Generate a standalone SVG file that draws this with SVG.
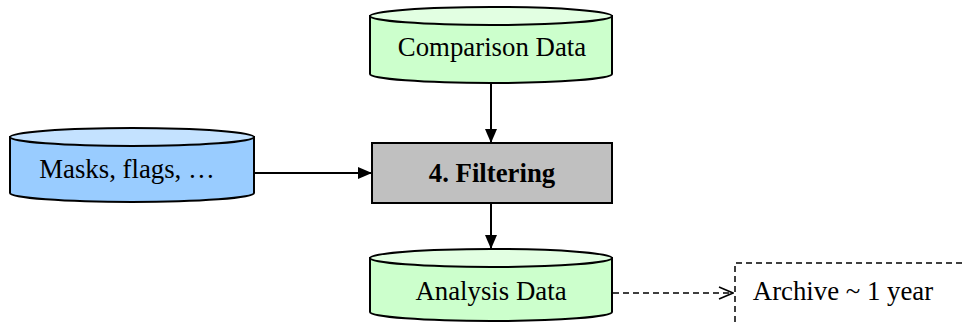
<svg xmlns="http://www.w3.org/2000/svg" width="964" height="322" viewBox="0 0 964 322">
<defs>
<style>
.t{font-family:"Liberation Serif","Times New Roman",serif;font-size:26.8px;fill:#000;text-anchor:middle}
.b{font-weight:bold}
.s{stroke:#000;stroke-width:2}
.c{stroke:#000;stroke-width:2;fill:none}
.g{fill:#ccffcc}
.gt{fill:#e2ffe2}
.bl{fill:#99ccff}
.blt{fill:#c4e2ff}
</style>
<marker id="ah" markerWidth="14" markerHeight="12" refX="14" refY="6" orient="auto" markerUnits="userSpaceOnUse">
<path d="M0,0 L14,6 L0,12 Z" fill="#000"/>
</marker>
<marker id="oh" markerWidth="16" markerHeight="14" refX="15" refY="7" orient="auto" markerUnits="userSpaceOnUse">
<path d="M1,1 L15,7 L1,13" fill="none" stroke="#000" stroke-width="1.5"/>
</marker>
</defs>
<g id="comparison">
<path class="s g" d="M370,16 L370,74 A121,9 0 0 0 612,74 L612,16 Z"/>
<ellipse class="s gt" cx="491" cy="16" rx="121" ry="9"/>
<text class="t" x="492" y="56">Comparison Data</text>
</g>
<g id="masks">
<path class="s bl" d="M10,137 L10,193 A122,9 0 0 0 254,193 L254,137 Z"/>
<ellipse class="s blt" cx="132" cy="137" rx="122" ry="9"/>
<text class="t" x="127" y="178">Masks, flags, …</text>
</g>
<g id="filtering">
<rect class="s" x="372" y="143" width="240" height="60" fill="#c0c0c0"/>
<text class="t b" x="492" y="182">4. Filtering</text>
</g>
<g id="analysis">
<path class="s g" d="M370,258 L370,312 A121,9 0 0 0 612,312 L612,258 Z"/>
<ellipse class="s gt" cx="491" cy="258" rx="121" ry="9"/>
<text class="t" x="491" y="300">Analysis Data</text>
</g>
<g id="archive">
<path d="M735,322 L735,263 L964,263" fill="none" stroke="#000" stroke-width="1.5" stroke-dasharray="6,4"/>
<text class="t" x="843" y="300">Archive ~ 1 year</text>
</g>
<g id="connectors">
<line class="c" x1="491" y1="83" x2="491" y2="143" marker-end="url(#ah)"/>
<line class="c" x1="254" y1="173" x2="372" y2="173" marker-end="url(#ah)"/>
<line class="c" x1="491" y1="203" x2="491" y2="249" marker-end="url(#ah)"/>
<line x1="613" y1="293" x2="733" y2="293" stroke="#000" stroke-width="1.5" stroke-dasharray="6,4" marker-end="url(#oh)"/>
</g>
</svg>
